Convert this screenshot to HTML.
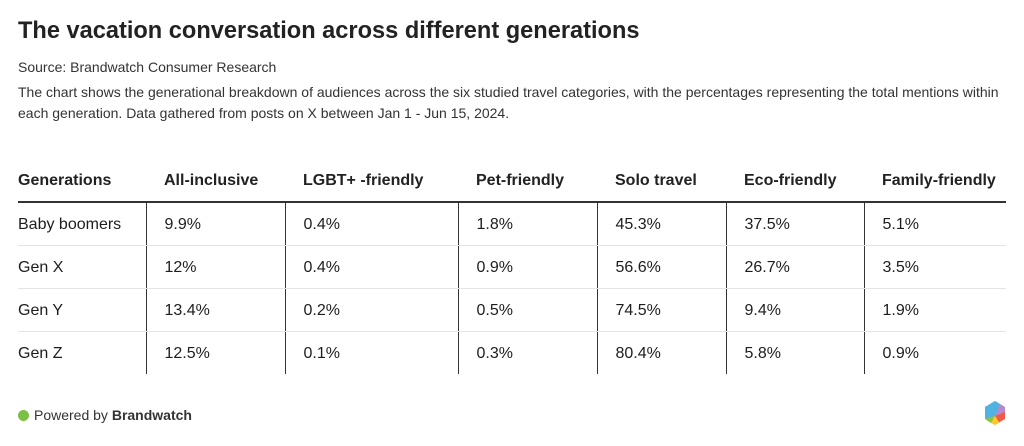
<!DOCTYPE html>
<html><head><meta charset="utf-8"><style>
body{margin:0;width:1024px;height:446px;background:#fff;font-family:"Liberation Sans",sans-serif;color:#1d1d1d;position:relative;overflow:hidden}
.t{position:absolute;left:18px;top:18px;font-size:23.6px;font-weight:bold;color:#222}
.s{position:absolute;left:18px;top:59px;font-size:14px;color:#333}
.d{position:absolute;left:18px;top:82px;font-size:14px;line-height:21px;color:#333;width:1000px}
table{position:absolute;left:18px;top:161px;border-collapse:collapse;font-size:16px}
th{font-weight:bold;text-align:left;height:40px;padding:0 0 0 18px;border-bottom:2px solid #333;color:#222}
td{height:43px;padding:2px 0 0 18px;border-bottom:1px solid #e4e4e4;border-left:1px solid #333;box-sizing:border-box}
tr:last-child td{border-bottom:none}
th:first-child,td:first-child{padding-left:0;border-left:none}
.f{position:absolute;left:18px;top:407px;font-size:14px;color:#333}
.dot{display:inline-block;width:11px;height:11px;border-radius:50%;background:#7bc043;vertical-align:-1px;margin-right:5px}
</style></head><body>
<div class="t">The vacation conversation across different generations</div>
<div class="s">Source: Brandwatch Consumer Research</div>
<div class="d">The chart shows the generational breakdown of audiences across the six studied travel categories, with the percentages representing the total mentions within each generation. Data gathered from posts on X between Jan 1 - Jun 15, 2024.</div>
<table>
<colgroup><col style="width:128px"><col style="width:139px"><col style="width:173px"><col style="width:139px"><col style="width:129px"><col style="width:138px"><col style="width:142px"></colgroup>
<tr><th>Generations</th><th>All-inclusive</th><th>LGBT+ -friendly</th><th>Pet-friendly</th><th>Solo travel</th><th>Eco-friendly</th><th>Family-friendly</th></tr>
<tr><td>Baby boomers</td><td>9.9%</td><td>0.4%</td><td>1.8%</td><td>45.3%</td><td>37.5%</td><td>5.1%</td></tr>
<tr><td>Gen X</td><td>12%</td><td>0.4%</td><td>0.9%</td><td>56.6%</td><td>26.7%</td><td>3.5%</td></tr>
<tr><td>Gen Y</td><td>13.4%</td><td>0.2%</td><td>0.5%</td><td>74.5%</td><td>9.4%</td><td>1.9%</td></tr>
<tr><td>Gen Z</td><td>12.5%</td><td>0.1%</td><td>0.3%</td><td>80.4%</td><td>5.8%</td><td>0.9%</td></tr>
</table>
<div class="f"><span class="dot"></span>Powered by <b>Brandwatch</b></div>
<svg style="position:absolute;left:983px;top:400px" width="24" height="26" viewBox="0 0 24 26">
<polygon points="12,1 22,7 22,19 12,25 2,19 2,7" fill="#f7931e"/>
<polygon points="2,7 12,1 17,4 12,16 2,19" fill="#4fb3e3"/>
<polygon points="17,4 22,7 22,12 12,16" fill="#b48ad0"/>
<polygon points="22,12 22,19 16,22 12,16" fill="#f05a4a"/>
<polygon points="2,19 12,16 8,23" fill="#8cc63f"/>
<polygon points="8,23 12,16 16,22 12,25" fill="#fdc82f"/>
</svg>
</body></html>
